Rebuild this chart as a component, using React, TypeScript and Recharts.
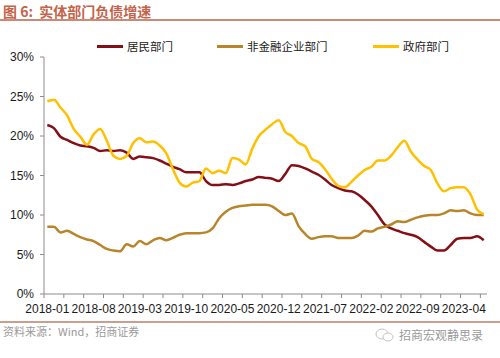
import { LineChart, Line, XAxis, YAxis, Legend } from "recharts";

// monthly, 2018-01 .. 2023-07
const months = [
  "2018-01", "2018-02", "2018-03", "2018-04", "2018-05", "2018-06", "2018-07", "2018-08", "2018-09", "2018-10", "2018-11", "2018-12",
  "2019-01", "2019-02", "2019-03", "2019-04", "2019-05", "2019-06", "2019-07", "2019-08", "2019-09", "2019-10", "2019-11", "2019-12",
  "2020-01", "2020-02", "2020-03", "2020-04", "2020-05", "2020-06", "2020-07", "2020-08", "2020-09", "2020-10", "2020-11", "2020-12",
  "2021-01", "2021-02", "2021-03", "2021-04", "2021-05", "2021-06", "2021-07", "2021-08", "2021-09", "2021-10", "2021-11", "2021-12",
  "2022-01", "2022-02", "2022-03", "2022-04", "2022-05", "2022-06", "2022-07", "2022-08", "2022-09", "2022-10", "2022-11", "2022-12",
  "2023-01", "2023-02", "2023-03", "2023-04", "2023-05", "2023-06", "2023-07",
];

const household = [
  21.4, 21.0, 19.9, 19.5, 19.1, 18.8, 18.7, 18.5, 18.1, 18.2,
  18.1, 18.2, 17.9, 17.1, 17.4, 17.3, 17.2, 16.9, 16.5, 16.1,
  15.8, 15.4, 15.4, 15.4, 14.3, 13.8, 13.8, 13.9, 13.8, 14.0,
  14.3, 14.5, 14.8, 14.7, 14.6, 14.3, 15.2, 16.3, 16.2, 15.9,
  15.5, 15.1, 14.5, 13.8, 13.4, 13.1, 13.0, 12.6, 11.9, 11.1,
  10.0, 8.8, 8.3, 8.0, 7.7, 7.5, 7.2, 6.6, 6.0, 5.5,
  5.5, 6.2, 7.0, 7.1, 7.1, 7.3, 6.8,
];

const corporate = [
  8.5, 8.5, 7.8, 8.0, 7.6, 7.2, 6.9, 6.7, 6.2, 5.7,
  5.5, 5.4, 6.3, 6.0, 6.7, 6.3, 6.8, 7.1, 6.8, 7.1,
  7.5, 7.7, 7.7, 7.7, 7.8, 8.3, 9.6, 10.4, 10.9, 11.1,
  11.2, 11.3, 11.3, 11.3, 11.1, 10.5, 10.0, 10.2, 8.6, 7.6,
  7.0, 7.2, 7.3, 7.3, 7.1, 7.1, 7.1, 7.4, 8.0, 7.9,
  8.3, 8.5, 8.8, 9.2, 9.1, 9.4, 9.7, 9.9, 10.0, 10.0,
  10.2, 10.6, 10.5, 10.6, 10.2, 10.0, 10.0,
];

const government = [
  24.4, 24.6, 23.6, 22.6, 20.9, 19.9, 18.9, 20.2, 20.9, 19.4,
  17.5, 17.1, 17.5, 19.1, 19.7, 19.2, 19.3, 18.8, 17.8, 15.8,
  14.1, 13.6, 14.1, 14.3, 15.9, 15.3, 15.6, 15.3, 17.2, 17.0,
  16.4, 18.4, 20.0, 20.8, 21.5, 22.0, 20.5, 20.0, 19.1, 18.7,
  17.1, 16.7, 15.8, 14.6, 13.7, 13.5, 14.2, 15.0, 15.7, 16.1,
  16.9, 16.9, 17.5, 18.6, 19.4, 18.0, 17.0, 16.2, 15.7, 14.0,
  13.0, 13.4, 13.5, 13.5, 12.6, 10.7, 10.1,
];

const yTicks = [0, 5, 10, 15, 20, 25, 30];
// label every 7 months, tick marks every 3 months on category edges
const labelIdx = [0, 7, 14, 21, 28, 35, 42, 49, 56, 63];
const markIdx = [
  -0.5, 2.5, 5.5, 8.5, 11.5, 14.5, 17.5, 20.5, 23.5, 26.5, 29.5, 32.5,
  35.5, 38.5, 41.5, 44.5, 47.5, 50.5, 53.5, 56.5, 59.5, 62.5, 65.5,
];

const series = [
  { key: "household", name: "居民部门", color: "#840F17" },
  { key: "corporate", name: "非金融企业部门", color: "#B8852A" },
  { key: "government", name: "政府部门", color: "#FFC000" },
];

const data = months.map((m, i) => ({
  idx: i,
  month: m,
  household: household[i],
  corporate: corporate[i],
  government: government[i],
}));

const latin = '"Liberation Sans", Arial, sans-serif';
const cjk = '"Noto Sans CJK SC", "Liberation Sans", sans-serif';
const axisGrey = "#8c8c8c";

function XTick(props: any) {
  const { x, y, payload } = props;
  const v = payload.value as number;
  if (Number.isInteger(v)) {
    return (
      <text x={x} y={y} dy="0.71em" textAnchor="middle" fontSize={12} fontFamily={latin} fill="#1a1a1a">
        {months[v]}
      </text>
    );
  }
  return <line x1={x} x2={x} y1={y - 10} y2={y - 6} stroke={axisGrey} strokeWidth={1} />;
}

const legendPos = [97, 217, 373];

function LegendBox() {
  return (
    <div style={{ position: "relative", width: 500, height: 16 }}>
      {series.map((s, i) => (
        <div
          key={s.key}
          style={{ position: "absolute", left: legendPos[i], top: 0, display: "flex", alignItems: "center", height: 16 }}
        >
          <span style={{ display: "inline-block", width: 26, height: 3, background: s.color }} />
          <span style={{ marginLeft: 4, fontSize: 11.5, fontFamily: cjk, color: "#222", lineHeight: "16px" }}>
            {s.name}
          </span>
        </div>
      ))}
    </div>
  );
}

export default function App() {
  return (
    <div style={{ position: "absolute", left: 0, top: 0, width: 500, height: 358, background: "#fff", overflow: "hidden" }}>
      <div
        style={{
          position: "absolute", left: 3, top: 3, fontSize: 14, fontWeight: 700,
          fontFamily: cjk, color: "#C4634A", lineHeight: "16px", whiteSpace: "pre",
        }}
      >
        {"图 6:  实体部门负债增速"}
      </div>
      <div style={{ position: "absolute", left: 0, top: 19, width: 500, height: 1.5, background: "#C98A78" }} />

      <LineChart
        width={500}
        height={358}
        data={data}
        margin={{ top: 41, right: 13, bottom: 44, left: 8 }}
        style={{ position: "absolute", left: 0, top: 0 }}
      >
        <XAxis
          dataKey="idx"
          type="number"
          domain={[-0.5, 66.5]}
          ticks={[...markIdx, ...labelIdx].sort((a, b) => a - b)}
          interval={0}
          height={20}
          tickSize={4}
          tickMargin={6}
          tickLine={false}
          axisLine={{ stroke: axisGrey }}
          tick={<XTick />}
        />
        <YAxis
          domain={[0, 30]}
          ticks={yTicks}
          width={36}
          tickSize={4}
          tickMargin={6}
          interval={0}
          axisLine={{ stroke: axisGrey }}
          tickLine={{ stroke: axisGrey }}
          tick={{ fontSize: 12, fontFamily: latin, fill: "#1a1a1a" }}
          tickFormatter={(v: number) => `${v}%`}
        />
        <Legend
          verticalAlign="top"
          content={() => <LegendBox />}
          wrapperStyle={{ position: "absolute", top: 38, left: 0, width: 500 }}
        />
        {series.map((s) => (
          <Line
            key={s.key}
            type="monotone"
            dataKey={s.key}
            name={s.name}
            stroke={s.color}
            strokeWidth={2.5}
            dot={false}
            activeDot={false}
            isAnimationActive={false}
          />
        ))}
      </LineChart>

      <div style={{ position: "absolute", left: 0, top: 321, width: 500, height: 1.5, background: "#C9A090" }} />
      <div
        style={{
          position: "absolute", left: 3, top: 325, fontSize: 11, fontFamily: cjk,
          color: "#9a9a9a", lineHeight: "13px", whiteSpace: "nowrap",
        }}
      >
        资料来源：Wind，招商证券
      </div>
      <svg width={22} height={16} style={{ position: "absolute", left: 374, top: 327 }}>
        <ellipse cx={8} cy={7} rx={6} ry={5} fill="none" stroke="#c4c4c4" strokeWidth={1} />
        <ellipse cx={14} cy={10} rx={5} ry={4} fill="#fff" stroke="#c4c4c4" strokeWidth={1} />
      </svg>
      <div
        style={{
          position: "absolute", left: 399, top: 328, fontSize: 12, fontFamily: cjk,
          color: "#9a9a9a", lineHeight: "14px", whiteSpace: "nowrap",
        }}
      >
        招商宏观静思录
      </div>
    </div>
  );
}
